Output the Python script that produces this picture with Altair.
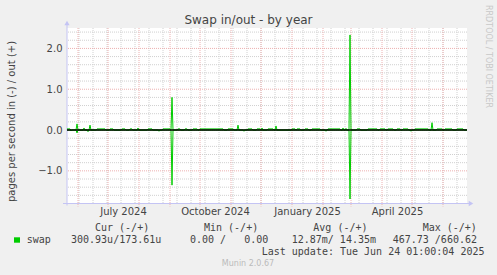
import altair as alt
import pandas as pd

# ---------------- data ----------------
START = "2024-05-21"   # left edge of the plot
END = "2025-06-25"     # right edge of the plot

# out (+): spikes  (day offset from START, pages/s)
out_spike_days = [10, 17, 23, 71, 105, 171, 195, 209, 276, 279, 283, 365]
out_spike_vals = [0.15, 0.05, 0.12, 0.05, 0.80, 0.12, 0.05, 0.10, 0.05, 0.04, 2.33, 0.18]
# out (+): low plateaus (start day, end day, level)
out_plat_start = [0, 30, 43, 55, 63, 81, 96, 111, 118, 126, 133, 161, 181, 190, 201,
                  225, 230, 238, 245, 261, 290, 301, 313, 321, 330, 336, 348, 370, 378, 390]
out_plat_end = [3, 38, 46, 58, 65, 85, 103, 113, 120, 130, 156, 166, 185, 193, 206,
                228, 233, 241, 253, 273, 293, 310, 318, 326, 333, 341, 361, 375, 385, 396]
out_plat_level = 0.028
# in (-): spikes
in_spike_days = [4, 10, 21, 92, 105, 177, 259, 283, 344]
in_spike_vals = [-0.02, -0.07, -0.04, -0.03, -1.35, -0.03, -0.03, -1.69, -0.03]

y_major = [-1, 0, 1, 2]
y_minor = [-1.6, -1.4, -1.2, -0.8, -0.6, -0.4, -0.2, 0.2, 0.4, 0.6, 0.8,
           1.2, 1.4, 1.6, 1.8, 2.2, 2.4]
x_label_dates = ["2024-07-16", "2024-10-16", "2025-01-16", "2025-04-16"]

title = "Swap in/out - by year"
y_title = "pages per second in (-) / out (+)"
legend_headers = ["Cur (-/+)", "Min (-/+)", "Avg (-/+)", "Max (-/+)"]
legend_values = ["300.93u/173.61u", "0.00 /   0.00", "12.87m/ 14.35m", "467.73 /660.62"]
legend_name = "swap"
last_update = "Last update: Tue Jun 24 01:00:04 2025"
munin_ver = "Munin 2.0.67"
rrd_credit = "RRDTOOL / TOBI OETIKER"

# ---------------- build tables ----------------
start = pd.Timestamp(START, tz="UTC")
end = pd.Timestamp(END, tz="UTC")
ndays = (end - start).days


def iso(ts):
    return ts.strftime("%Y-%m-%dT%H:%M:%SZ")


out_vals = [0.0] * (ndays + 1)
for s, e in zip(out_plat_start, out_plat_end):
    for d in range(s, e + 1):
        out_vals[d] = out_plat_level
for d, v in zip(out_spike_days, out_spike_vals):
    out_vals[d] = v
in_vals = [0.0] * (ndays + 1)
for d, v in zip(in_spike_days, in_spike_vals):
    in_vals[d] = v

rows = []
for name, vals in (("out", out_vals), ("in", in_vals)):
    for d, v in enumerate(vals):
        rows.append({"date": iso(start + pd.Timedelta(days=d)), "value": v, "series": name})
line_df = pd.DataFrame(rows)

month_df = pd.DataFrame({"date": [iso(t) for t in pd.date_range("2024-06-01", "2025-06-01", freq="MS", tz="UTC")]})
week2_df = pd.DataFrame({"date": [iso(t) for t in pd.date_range("2024-06-02", "2025-06-24", freq="14D", tz="UTC")]})
ymaj_df = pd.DataFrame({"value": y_major})
ymin_df = pd.DataFrame({"value": y_minor})
zero_df = pd.DataFrame({"value": [0]})


def ms(s):
    return int(pd.Timestamp(s, tz="UTC").value // 10**6)


W, H = 400, 175.5
AXIS_COL = "#C4C4F4"
TXT = "#444444"
GREEN = "#00CC00"

x_enc = alt.X(
    "date:T",
    scale=alt.Scale(type="utc", domain=[ms(START), ms(END)]),
    axis=alt.Axis(values=[ms(s) for s in x_label_dates],
                  labelExpr="utcFormat(datum.value, '%B %Y')",
                  title=None, grid=False, ticks=False, domain=False,
                  labelFont="DejaVu Sans", labelFontSize=10, labelColor=TXT,
                  labelPadding=3, labelFlush=False, labelOverlap=False),
)
y_enc = alt.Y(
    "value:Q",
    scale=alt.Scale(domain=[-1.8, 2.5], nice=False, zero=False),
    axis=alt.Axis(values=y_major, format=".1f", title=None, grid=False, ticks=False,
                  domain=False, labelFont="DejaVu Sans", labelFontSize=10,
                  labelColor=TXT, labelPadding=5),
)

one = pd.DataFrame({"t": [""]})

layers = []
layers.append(alt.Chart(ymin_df).mark_rule(color="#D0D0D0", strokeDash=[1, 1], strokeWidth=1).encode(y=y_enc))
layers.append(alt.Chart(week2_df).mark_rule(color="#D0D0D0", strokeDash=[1, 1], strokeWidth=1).encode(x=x_enc))
layers.append(alt.Chart(ymaj_df).mark_rule(color="#EDB0B0", strokeDash=[1, 1], strokeWidth=1).encode(y=y_enc))
layers.append(alt.Chart(month_df).mark_rule(color="#EDB0B0", strokeDash=[1, 1], strokeWidth=1).encode(
    x=x_enc, y=alt.value(0), y2=alt.value(H + 3)))
# axes
layers.append(alt.Chart(one).mark_rule(color=AXIS_COL, strokeWidth=1).encode(
    x=alt.value(0), y=alt.value(-5), y2=alt.value(H + 2)))
layers.append(alt.Chart(one).mark_rule(color=AXIS_COL, strokeWidth=1).encode(
    x=alt.value(-4), x2=alt.value(W + 3), y=alt.value(H)))
layers.append(alt.Chart(one).mark_point(shape="triangle-up", filled=True, size=28, color=AXIS_COL, opacity=1).encode(
    x=alt.value(0), y=alt.value(-5)))
layers.append(alt.Chart(one).mark_point(shape="triangle-right", filled=True, size=28, color=AXIS_COL, opacity=1).encode(
    x=alt.value(W + 4), y=alt.value(H)))
# data
layers.append(alt.Chart(line_df).mark_line(color=GREEN, strokeWidth=1, interpolate="linear").encode(
    x=x_enc, y=y_enc, detail="series:N"))
layers.append(alt.Chart(zero_df).mark_rule(color="black", strokeWidth=1.6).encode(y=y_enc))


def txt(s, x, y, size=10, font="DejaVu Sans Mono", color=TXT, align="left", angle=0):
    s = s.replace(" ", "\u00a0")
    return alt.Chart(pd.DataFrame({"t": [s]})).mark_text(
        font=font, fontSize=size, color=color, align=align, baseline="middle", angle=angle
    ).encode(text="t:N", x=alt.value(x), y=alt.value(y))


OX, OY = 67, 28
layers.append(txt(title, 248.5 - OX, 20 - OY, size=12, font="DejaVu Sans", align="center"))
layers.append(txt(y_title, 12 - OX, 121.5 - OY, size=10, font="DejaVu Sans", align="center", angle=270))
layers.append(txt(rrd_credit, 487.5 - OX, 5 - OY, size=8, font="DejaVu Sans", color="#C8C8C8", angle=90))
for s, px in zip(legend_headers, [95, 204, 313.3, 422.7]):
    layers.append(txt(s, px - OX, 227.5 - OY))
for s, px in zip(legend_values, [71, 190, 291.7, 392.7]):
    layers.append(txt(s, px - OX, 240 - OY))
layers.append(txt(legend_name, 26.7 - OX, 240 - OY))
layers.append(alt.Chart(one).mark_rect(color=GREEN).encode(
    x=alt.value(14 - OX), x2=alt.value(20 - OX), y=alt.value(237.3 - OY), y2=alt.value(242.7 - OY)))
layers.append(txt(last_update, 261.7 - OX, 251.7 - OY))
layers.append(txt(munin_ver, 248 - OX, 264 - OY, size=8, font="DejaVu Sans", color="#BBBBBB", align="center"))

chart = alt.layer(*layers).properties(
    width=W, height=H,
    autosize=alt.AutoSizeParams(type="none"),
    padding={"left": OX, "top": OY, "right": 497 - OX - W, "bottom": 275 - OY - H},
    background="#F0F0F0",
).configure_view(strokeWidth=0, fill="white")

chart.save("out.html", embed_options={"renderer": "svg", "actions": False})
